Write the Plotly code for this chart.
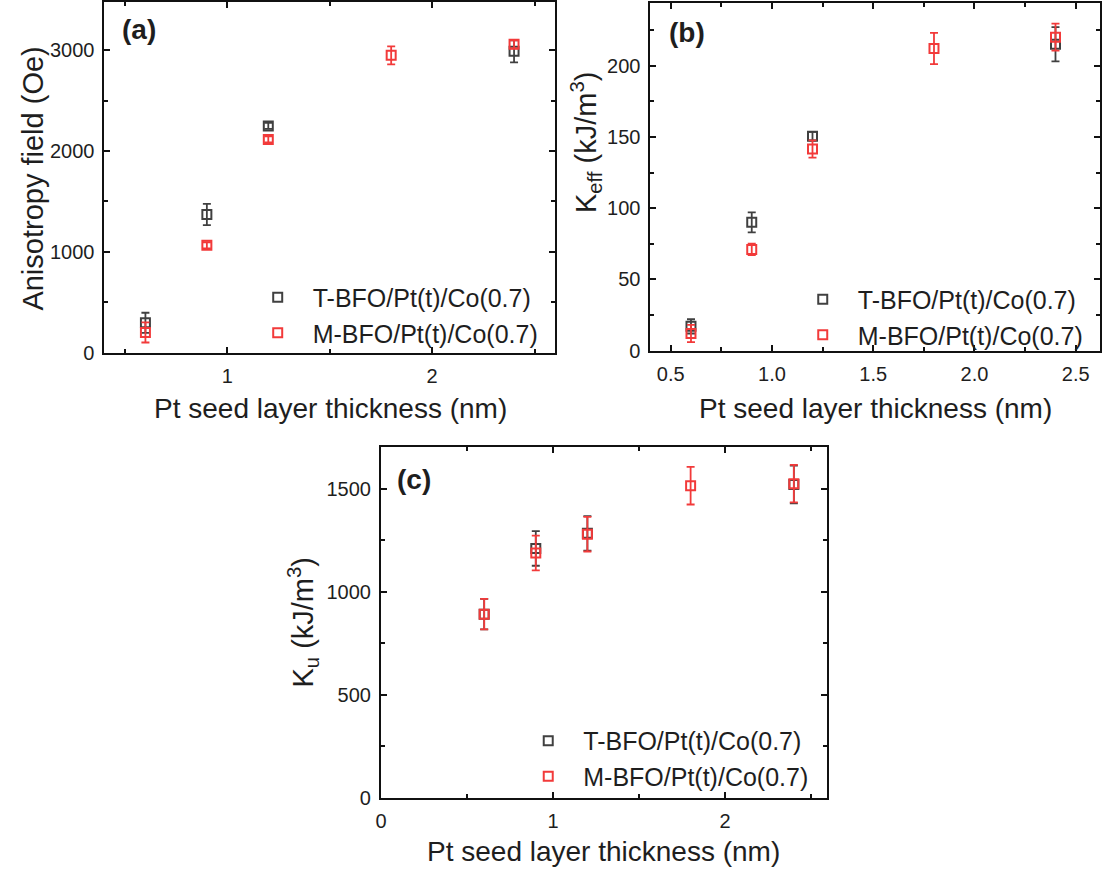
import plotly.graph_objects as go

# ---------------- data ----------------
x_T = [0.6, 0.9, 1.2, 2.4]
x_M = [0.6, 0.9, 1.2, 1.8, 2.4]

# (a) anisotropy field (Oe)
hk_T = [295, 1370, 2250, 2990]
hk_T_err = [100, 105, 30, 110]
hk_M = [200, 1065, 2115, 2950, 3060]
hk_M_err = [100, 30, 30, 90, 40]

# (b) Keff (kJ/m3)
keff_T = [17, 90, 150.5, 215]
keff_T_err = [5, 7, 3, 12]
keff_M = [12, 71, 141.5, 212, 220]
keff_M_err = [6, 4, 6, 11, 9.5]

# (c) Ku (kJ/m3)
ku_T = [891, 1210, 1283, 1520]
ku_T_err = [74, 84, 84, 91]
ku_M = [891, 1188, 1279, 1514, 1524]
ku_M_err = [74, 84, 84, 91, 91]

label_T = "T-BFO/Pt(t)/Co(0.7)"
label_M = "M-BFO/Pt(t)/Co(0.7)"

BLACK = "#404040"
RED = "#f23a3a"
TXT = "#1e1e1e"
FONT = "Liberation Sans, Arial, sans-serif"

W, H = 1107, 885
def px(x):
    return x / W
def py(y):
    return 1 - y / H

fig = go.Figure()

def add_pair(xa, ya, legend, yT, eT, yM, eM):
    for xs, ys, es, col, name in ((x_T, yT, eT, BLACK, label_T), (x_M, yM, eM, RED, label_M)):
        fig.add_trace(go.Scatter(
            x=xs, y=ys, mode="markers", name=name,
            xaxis=xa, yaxis=ya, legend=legend,
            marker=dict(symbol="square-open", size=9, color=col, line=dict(width=2, color=col)),
            error_y=dict(type="data", array=es, visible=True, color=col, thickness=1.8, width=4),
        ))

add_pair("x", "y", "legend", hk_T, hk_T_err, hk_M, hk_M_err)
add_pair("x2", "y2", "legend2", keff_T, keff_T_err, keff_M, keff_M_err)
add_pair("x3", "y3", "legend3", ku_T, ku_T_err, ku_M, ku_M_err)

def axis_common():
    return dict(
        showline=True, linewidth=2, linecolor="#111", mirror="ticks",
        ticks="inside", ticklen=6, tickwidth=2, tickcolor="#111",
        showgrid=False, zeroline=False,
        tickfont=dict(family=FONT, size=20, color=TXT),
        ticklabelstandoff=4,
    )

def xax(domain, rng, dtick, minor_dtick, anchor, fmt=None):
    d = axis_common()
    d.update(domain=domain, range=rng, dtick=dtick, tick0=0, anchor=anchor,
             minor=dict(dtick=minor_dtick, tick0=0, ticks="inside", ticklen=4, tickwidth=2, tickcolor="#111", showgrid=False))
    if fmt:
        d["tickformat"] = fmt
    return d

def yax(domain, rng, dtick, minor_dtick, anchor):
    d = axis_common()
    d.update(domain=domain, range=rng, dtick=dtick, tick0=0, anchor=anchor,
             minor=dict(dtick=minor_dtick, tick0=0, ticks="inside", ticklen=4, tickwidth=2, tickcolor="#111", showgrid=False))
    return d

fig.update_layout(
    width=W, height=H, margin=dict(l=0, r=0, t=0, b=0),
    paper_bgcolor="white", plot_bgcolor="white",
    xaxis=xax([px(99), px(552)], [0.4, 2.6], 1, 0.5, "y"),
    yaxis=yax([py(357), py(2)], [0, 3480], 1000, 500, "x"),
    xaxis2=xax([px(648), px(1100)], [0.4, 2.62], 0.5, 0.25, "y2", ".1f"),
    yaxis2=yax([py(355), py(3)], [0, 244], 50, 25, "x2"),
    xaxis3=xax([px(377), px(825)], [0, 2.59], 1, 0.5, "y3"),
    yaxis3=yax([py(808), py(453)], [0, 1700], 500, 250, "x3"),
)

def legend_at(x, y):
    return dict(x=px(x), y=py(y), xanchor="left", yanchor="top", xref="paper", yref="paper",
                bgcolor="rgba(0,0,0,0)", borderwidth=0, itemwidth=60,
                font=dict(family=FONT, size=25, color=TXT), tracegroupgap=0)

fig.update_layout(
    legend=legend_at(238, 278),
    legend2=legend_at(786, 280),
    legend3=legend_at(510, 727),
)

anns = [
    dict(text="<b>(a)</b>", x=px(134), y=py(30), size=28),
    dict(text="<b>(b)</b>", x=px(685), y=py(33), size=28),
    dict(text="<b>(c)</b>", x=px(410), y=py(486), size=28),
    dict(text="Pt seed layer thickness (nm)", x=px(326), y=py(414), size=28),
    dict(text="Pt seed layer thickness (nm)", x=px(874), y=py(414), size=28),
    dict(text="Pt seed layer thickness (nm)", x=px(601), y=py(862), size=28),
    dict(text="Anisotropy field (Oe)", x=px(27), y=py(181), size=29, angle=-90),
    dict(text="K<sub>eff</sub> (kJ/m<sup>3</sup>)", x=px(583), y=py(144), size=29, angle=-90),
    dict(text="K<sub>u</sub> (kJ/m<sup>3</sup>)", x=px(299), y=py(630), size=29, angle=-90),
]
for a in anns:
    fig.add_annotation(
        text=a["text"], x=a["x"], y=a["y"], xref="paper", yref="paper",
        xanchor="center", yanchor="middle", showarrow=False,
        textangle=a.get("angle", 0),
        font=dict(family=FONT, size=a["size"], color=TXT),
    )

fig.write_html("out.html")
